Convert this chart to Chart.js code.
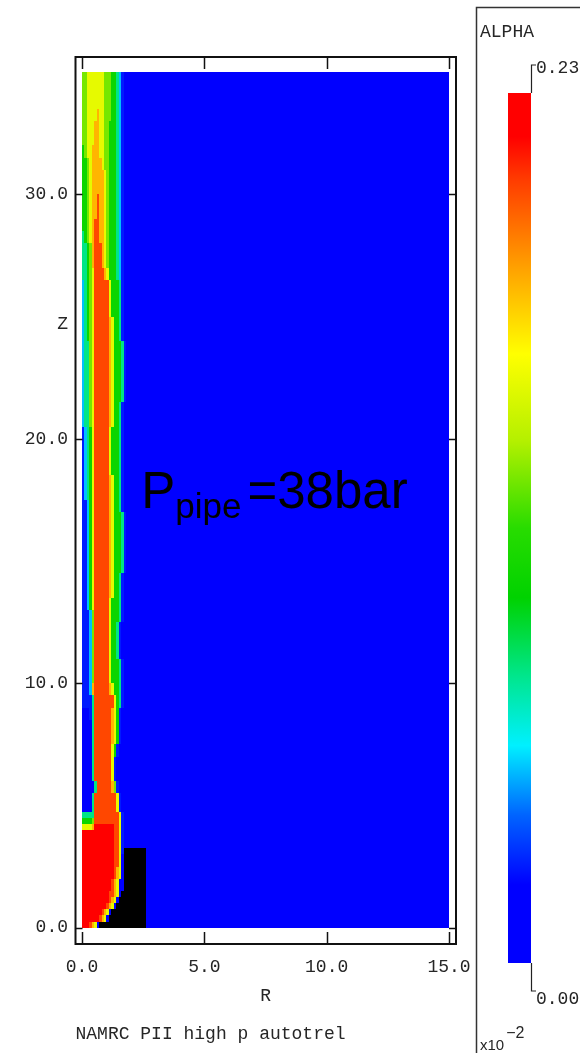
<!DOCTYPE html>
<html><head><meta charset="utf-8">
<script src="https://cdn.jsdelivr.net/npm/chart.js@4.4.1/dist/chart.umd.min.js"></script>
<style>
html,body{margin:0;padding:0;background:#fff;width:580px;height:1053px;overflow:hidden}
#main{position:absolute;left:0;top:0}
#bar{position:absolute;left:475px;top:6px}
</style></head><body>
<canvas id="main" width="480" height="1053"></canvas>
<canvas id="bar" width="105" height="1047"></canvas>
<script>
// ---------------- data ----------------
const xTickValues = [0, 5, 10, 15];          // R
const yTickValues = [0, 10, 20, 30];         // Z
const domainR = [0, 15];
const domainZ = [0, 35];
const alphaRange = [0, 0.23];                // x10^-2
const farFieldAlpha = 0;
const cellWidthR = 0.1;                       // columns R = 0 .. 2.6
const upperTopZ = 35, upperRowHeight = 0.5;   // rows z 35 .. 5
const lowerTopZ = 5,  lowerRowHeight = 0.25;  // rows z 5 .. 0
// ALPHA level per cell, 0..9 (value = level/9 * 0.23), x = solid (black)
const alphaRowsUpper = [
 "55666666655544321000000000", // 34.75
 "55666666655544321000000000",
 "55666666655544321000000000",
 "55666676655544321000000000",
 "55666776655444321000000000", // 32.75
 "55666776655444321000000000",
 "45667776655444321000000000",
 "44567777655444321000000000",
 "44567777765444321000000000", // 30.75
 "44567777765444321000000000",
 "44567787765444321000000000",
 "44567787765444321000000000",
 "44567887765444321000000000", // 28.75
 "34567887765444321000000000",
 "33457888765444321000000000",
 "33457888765444321000000000",
 "33456888876444321000000000", // 26.75
 "23456888888644431000000000",
 "23456888888644431000000000",
 "23456888888644431000000000",
 "23456888888764431000000000", // 24.75
 "23456888888764431000000000",
 "23356888888764443100000000",
 "23356888888764443100000000",
 "23356888888764443100000000", // 22.75
 "23356888888764443100000000",
 "23356888888764443100000000",
 "23356888888764431000000000",
 "23356888888764431000000000", // 20.75
 "12346888888644431000000000",
 "12346888888644431000000000",
 "12346888888644431000000000",
 "12346888888644431000000000", // 18.75
 "12346888888764431000000000",
 "12346888888764431000000000",
 "11246888888764431000000000",
 "11246888888764443100000000", // 16.75
 "11246888888764443100000000",
 "11246888888764443100000000",
 "11246888888764443100000000",
 "11246888888764443100000000", // 14.75
 "11246888888764431000000000",
 "11246888888764431000000000",
 "11246888888644431000000000",
 "11125888888644431000000000", // 12.75
 "11125888888644310000000000",
 "11125888888644310000000000",
 "11125888888644310000000000",
 "11125888888644431000000000", // 10.75
 "11125888888644431000000000",
 "11127888888764431000000000",
 "11113888888886431000000000",
 "00013888888876410000000000", // 8.75
 "00003888888876410000000000",
 "00003888888876410000000000",
 "00003888888864100000000000",
 "00003888888861000000000000", // 6.75
 "00003888888861000000000000",
 "00000388888875100000000000",
 "00003888888888610000000000"  // 5.25
];
const alphaRowsLower = [
 "00003888888888610000000000", // 4.875
 "33333888888888861000000000",
 "44445888888888861000000000",
 "66667999999998861000000000",
 "99999999999998861000000000", // 3.875
 "99999999999998861000000000",
 "99999999999998861000000000",
 "99999999999998861xxxxxxxxx",
 "99999999999998860xxxxxxxxx", // 2.875
 "99999999999998860xxxxxxxxx",
 "99999999999998760xxxxxxxxx",
 "99999999999998760xxxxxxxxx",
 "99999999999987600xxxxxxxxx", // 1.875
 "99999999999987600xxxxxxxxx",
 "9999999999988760xxxxxxxxxx",
 "999999999998760xxxxxxxxxxx",
 "99999999998760xxxxxxxxxxxx", // 0.875
 "999999998760xxxxxxxxxxxxxx",
 "99999998760xxxxxxxxxxxxxxx",
 "9998760xxxxxxxxxxxxxxxxxxx"  // 0.125
];
const titleText = 'NAMRC PII high p autotrel';
const zAxisLabelAt = 24.7;
const annotation = {main:'P', sub:'pipe', rest:'=38bar', r:2.42, z:17.17};

// ---------------- style ----------------
const colormapStops  = [0, 0.09, 0.17, 0.25, 0.33, 0.42, 0.50, 0.60, 0.70, 0.80, 0.90, 0.95, 1.0];
const colormapColors = ['#0000ff','#0000ff','#0064ff','#00f0ff','#00e68c','#00d200','#28dc00','#b4f000','#ffff00','#ffa000','#ff3c00','#ff0000','#ff0000'];
const monoFont = 'Liberation Mono';
const textColor = '#262626';

function hexToRgb(h){return [parseInt(h.substr(1,2),16),parseInt(h.substr(3,2),16),parseInt(h.substr(5,2),16)];}
const cmapRgb = colormapColors.map(hexToRgb);
function colorFor(v){
  const f = Math.max(0, Math.min(1, (v - alphaRange[0]) / (alphaRange[1] - alphaRange[0])));
  let i = 0;
  while (i < colormapStops.length - 2 && f > colormapStops[i+1]) i++;
  const t = (f - colormapStops[i]) / (colormapStops[i+1] - colormapStops[i]);
  const a = cmapRgb[i], b = cmapRgb[i+1];
  return 'rgb(' + [0,1,2].map(k => Math.round(a[k] + (b[k]-a[k])*t)).join(',') + ')';
}

// build cells (background far field first)
const cells = [{x:(domainR[0]+domainR[1])/2, y:(domainZ[0]+domainZ[1])/2, w:domainR[1]-domainR[0], h:domainZ[1]-domainZ[0], v:farFieldAlpha}];
function addRows(rows, topZ, h){
  rows.forEach((s, i) => {
    const z1 = topZ - i*h, z0 = z1 - h;
    for (let c = 0; c < s.length; c++){
      const ch = s[c];
      cells.push({x:(c+0.5)*cellWidthR, y:(z0+z1)/2, w:cellWidthR, h:h,
                  v: ch === 'x' ? null : (+ch)/9*alphaRange[1]});
    }
  });
}
addRows(alphaRowsUpper, upperTopZ, upperRowHeight);
addRows(alphaRowsLower, lowerTopZ, lowerRowHeight);

const heatmapPlugin = {
  id:'heatmap',
  beforeDatasetsDraw(chart){
    const {ctx, scales:{x, y}} = chart;
    ctx.save();
    chart.data.datasets[0].data.forEach(c => {
      const l = Math.round(x.getPixelForValue(c.x - c.w/2)), r = Math.round(x.getPixelForValue(c.x + c.w/2));
      const t = Math.round(y.getPixelForValue(c.y + c.h/2)), b = Math.round(y.getPixelForValue(c.y - c.h/2));
      ctx.fillStyle = c.v === null ? '#000000' : colorFor(c.v);
      ctx.fillRect(l, t, r - l, b - t);
    });
    ctx.restore();
  }
};

const framePlugin = {
  id:'frame',
  afterDraw(chart){
    const {ctx, chartArea:a, scales:{x, y}} = chart;
    ctx.save();
    ctx.strokeStyle = '#111'; ctx.lineWidth = 2;
    ctx.strokeRect(a.left, a.top, a.right - a.left, a.bottom - a.top);
    ctx.lineWidth = 1.5;
    ctx.beginPath();
    x.ticks.forEach(t => {
      const px = Math.round(x.getPixelForValue(t.value)) + 0.5;
      ctx.moveTo(px, a.bottom); ctx.lineTo(px, a.bottom - 12);
      ctx.moveTo(px, a.top); ctx.lineTo(px, a.top + 12);
    });
    y.ticks.forEach(t => {
      const py = Math.round(y.getPixelForValue(t.value)) + 0.5;
      ctx.moveTo(a.left, py); ctx.lineTo(a.left + 7, py);
      ctx.moveTo(a.right, py); ctx.lineTo(a.right - 7, py);
    });
    ctx.stroke();
    // Z axis label
    ctx.fillStyle = textColor;
    ctx.font = '18px "' + monoFont + '"';
    ctx.textAlign = 'right'; ctx.textBaseline = 'middle';
    ctx.fillText('Z', a.left - 7.5, y.getPixelForValue(zAxisLabelAt));
    // annotation
    const ax = x.getPixelForValue(annotation.r), ay = y.getPixelForValue(annotation.z);
    ctx.fillStyle = '#000'; ctx.textAlign = 'left'; ctx.textBaseline = 'alphabetic';
    ctx.font = '51px "Liberation Sans"';
    ctx.fillText(annotation.main, ax, ay);
    let cx = ax + ctx.measureText(annotation.main).width;
    ctx.font = '35px "Liberation Sans"';
    ctx.fillText(annotation.sub, cx, ay + 10);
    cx += ctx.measureText(annotation.sub).width + 6;
    ctx.font = '51px "Liberation Sans"';
    ctx.fillText(annotation.rest, cx, ay);
    ctx.restore();
  }
};

const tickFont = {family: monoFont, size: 18, weight: 'normal', lineHeight: 1.2};

new Chart(document.getElementById('main'), {
  type: 'scatter',
  data: {datasets: [{label:'ALPHA', data: cells, pointRadius:0, pointHoverRadius:0, pointHitRadius:0}]},
  options: {
    responsive:false, animation:false, devicePixelRatio:1, events:[],
    layout: {padding: {top:57, left:0, right:24, bottom:8}},
    plugins: {
      legend: {display:false}, tooltip: {enabled:false},
      title: {display:true, text:titleText, position:'bottom', align:'start', fullSize:false,
              font:{family:monoFont, size:18, weight:'normal', lineHeight:1.2}, color:textColor, padding:0}
    },
    scales: {
      x: {
        type:'linear', min:-0.266, max:15.286, position:'bottom',
        afterBuildTicks: s => { s.ticks = xTickValues.map(v => ({value:v})); },
        afterFit: s => { s.height = 79.4; s.paddingLeft = 0; s.paddingRight = 0; },
        grid: {display:false, drawTicks:false}, border: {display:false},
        ticks: {callback: v => Number(v).toFixed(1), font: tickFont, color: textColor, padding: 12.5, maxRotation:0, autoSkip:false},
        title: {display:true, text:'R', font: tickFont, color: textColor, padding: {top:0, bottom:16}}
      },
      y: {
        type:'linear', min:-0.667, max:35.62, position:'left',
        afterBuildTicks: s => { s.ticks = yTickValues.map(v => ({value:v})); },
        afterFit: s => { s.width = 75.5; s.paddingTop = 0; s.paddingBottom = 0; },
        grid: {display:false, drawTicks:false}, border: {display:false},
        ticks: {callback: v => Number(v).toFixed(1), font: tickFont, color: textColor, padding: 7.5, autoSkip:false}
      }
    }
  },
  plugins: [heatmapPlugin, framePlugin]
});

// ---------------- colour bar ----------------
const colorbarPlugin = {
  id:'colorbarText',
  afterDraw(chart){
    const {ctx, chartArea:a} = chart;
    ctx.save();
    ctx.strokeStyle = '#333'; ctx.lineWidth = 1.5;
    ctx.beginPath();
    ctx.moveTo(1.5, chart.height); ctx.lineTo(1.5, 1.5); ctx.lineTo(chart.width, 1.5);
    ctx.stroke();
    ctx.lineWidth = 1.2; ctx.strokeStyle = '#222';
    ctx.beginPath();
    ctx.moveTo(a.right + 0.5, a.top); ctx.lineTo(a.right + 0.5, a.top - 28); ctx.lineTo(a.right + 5, a.top - 28);
    ctx.moveTo(a.right + 0.5, a.bottom); ctx.lineTo(a.right + 0.5, a.bottom + 28); ctx.lineTo(a.right + 5, a.bottom + 28);
    ctx.stroke();
    ctx.fillStyle = textColor;
    ctx.font = '18px "' + monoFont + '"';
    ctx.textAlign = 'left'; ctx.textBaseline = 'middle';
    ctx.fillText(chart.data.labels[0], 5, 26);
    ctx.fillText(alphaRange[1].toFixed(3), a.right + 5, a.top - 25);
    ctx.fillText(alphaRange[0].toFixed(3), a.right + 5, a.bottom + 36);
    ctx.textBaseline = 'alphabetic';
    ctx.font = '15px "Liberation Sans"';
    ctx.fillText('x10', 5, chart.height - 3);
    const w = ctx.measureText('x10').width;
    ctx.font = '16px "Liberation Sans"';
    ctx.fillText('\u22122', 5 + w + 2, chart.height - 15);
    ctx.restore();
  }
};

new Chart(document.getElementById('bar'), {
  type: 'bar',
  data: {labels:['ALPHA'], datasets:[{
    data:[alphaRange],
    backgroundColor: c => {
      const a = c.chart.chartArea;
      if (!a) return '#0000ff';
      const g = c.chart.ctx.createLinearGradient(0, a.bottom, 0, a.top);
      colormapStops.forEach((s, i) => g.addColorStop(s, colormapColors[i]));
      return g;
    },
    barPercentage:1, categoryPercentage:1, borderWidth:0, borderSkipped:false
  }]},
  options: {
    responsive:false, animation:false, devicePixelRatio:1, events:[],
    layout: {padding: {left:33, right:49, top:87, bottom:90}},
    plugins: {legend:{display:false}, tooltip:{enabled:false}},
    scales: {x:{display:false}, y:{display:false, min:alphaRange[0], max:alphaRange[1]}}
  },
  plugins: [colorbarPlugin]
});
</script>
</body></html>
